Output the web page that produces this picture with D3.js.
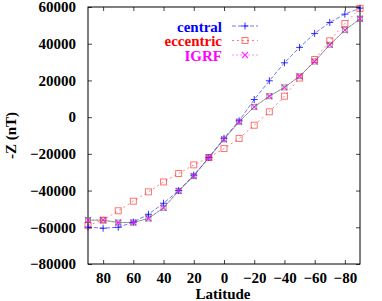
<!DOCTYPE html>
<html>
<head>
<meta charset="utf-8">
<script src="https://cdn.jsdelivr.net/npm/d3@7"></script>
<style>
body { margin: 0; background: #fff; }
</style>
</head>
<body>
<svg id="chart" width="382" height="301"></svg>
<script>
// latitudes of the samples, north to south
var latitudes = [90, 80, 70, 60, 50, 40, 30, 20, 10, 0, -10, -20, -30, -40, -50, -60, -70, -80, -90];

var central = [-59900, -60500, -60000, -57200, -52900, -46900, -40000, -31600, -22000, -11500,
	-2000, 9600, 19800, 29600, 38000, 45600, 51600, 56100, 59400];
var eccentric = [-59000, -56100, -51000, -45800, -40700, -35300, -30700, -26000, -22000, -17100,
	-11600, -4400, 2900, 11400, 21300, 31400, 41600, 51000, 59200];
var igrf = [-56100, -56100, -57400, -57400, -55200, -49400, -40200, -32100, -22000, -12100,
	-2500, 5600, 11400, 16200, 22300, 30300, 39400, 47400, 53600];

var xTicks = [80, 60, 40, 20, 0, -20, -40, -60, -80];
var yTicks = [-80000, -60000, -40000, -20000, 0, 20000, 40000, 60000];

var FONT = "Liberation Serif";
var FONT_SIZE = 15;
var PLOT_L = 88, PLOT_R = 360, PLOT_T = 7, PLOT_B = 264;
var TICK_LEN = 4;

var svg = d3.select("#chart");

var x = d3.scaleLinear().domain([90, -90]).range([PLOT_L, PLOT_R]);
var y = d3.scaleLinear().domain([-80000, 60000]).range([PLOT_B, PLOT_T]);

function styleAxis(g) {
	g.select(".domain").remove();
	g.selectAll("text")
		.attr("fill", "#000")
		.attr("font-family", FONT)
		.attr("font-weight", "bold")
		.attr("font-size", FONT_SIZE);
	g.selectAll("line").attr("stroke", "#444");
}

// axes: labels on left/bottom, mirrored ticks on top/right
svg.append("g")
	.attr("transform", "translate(0," + PLOT_B + ")")
	.call(d3.axisBottom(x).tickValues(xTicks).tickSizeInner(-TICK_LEN).tickSizeOuter(0).tickPadding(8).tickFormat(d3.format("d")))
	.call(styleAxis);

svg.append("g")
	.attr("transform", "translate(0," + PLOT_T + ")")
	.call(d3.axisTop(x).tickValues(xTicks).tickSizeInner(-TICK_LEN).tickSizeOuter(0).tickFormat(""))
	.call(styleAxis);

svg.append("g")
	.attr("transform", "translate(" + PLOT_L + ",0)")
	.call(d3.axisLeft(y).tickValues(yTicks).tickSizeInner(-TICK_LEN).tickSizeOuter(0).tickPadding(12).tickFormat(d3.format("d")))
	.call(styleAxis);

svg.append("g")
	.attr("transform", "translate(" + PLOT_R + ",0)")
	.call(d3.axisRight(y).tickValues(yTicks).tickSizeInner(-TICK_LEN).tickSizeOuter(0).tickFormat(""))
	.call(styleAxis);

// frame
svg.append("rect")
	.attr("x", PLOT_L).attr("y", PLOT_T)
	.attr("width", PLOT_R - PLOT_L).attr("height", PLOT_B - PLOT_T)
	.attr("fill", "none").attr("stroke", "#000").attr("stroke-width", 1);

// axis titles
svg.append("text")
	.attr("x", 223).attr("y", 298.5)
	.attr("text-anchor", "middle")
	.attr("font-family", FONT).attr("font-weight", "bold").attr("font-size", FONT_SIZE)
	.text("Latitude");

svg.append("text")
	.attr("transform", "translate(16," + ((PLOT_T + PLOT_B) / 2) + ") rotate(-90)")
	.attr("text-anchor", "middle")
	.attr("font-family", FONT).attr("font-weight", "bold").attr("font-size", FONT_SIZE)
	.text("-Z (nT)");

var line = d3.line()
	.x(function(d, i) { return x(latitudes[i]); })
	.y(function(d) { return y(d); });

// marker drawing helpers
function plus(g, cx, cy, col) {
	g.append("path").attr("d", "M" + (cx - 3.5) + "," + cy + "h7M" + cx + "," + (cy - 3.5) + "v7")
		.attr("stroke", col).attr("stroke-width", 1).attr("fill", "none");
}
function square(g, cx, cy, col, s) {
	g.append("rect").attr("x", cx - s / 2).attr("y", cy - s / 2).attr("width", s).attr("height", s)
		.attr("stroke", col).attr("stroke-width", 1).attr("fill", "none");
}
function cross(g, cx, cy, col) {
	g.append("path").attr("d", "M" + (cx - 3) + "," + (cy - 3) + "l6,6M" + (cx - 3) + "," + (cy + 3) + "l6,-6")
		.attr("stroke", col).attr("stroke-width", 1.2).attr("fill", "none");
}

var series = [
	{ name: "central", values: central, color: "#0000ff", lineColor: "rgba(0,0,255,0.55)", dash: "4,2", marker: "plus" },
	{ name: "eccentric", values: eccentric, color: "#ff0000", lineColor: "rgba(255,0,0,0.5)", dash: "2,3", marker: "square" },
	{ name: "IGRF", values: igrf, color: "#ff00ff", lineColor: "rgba(255,0,255,0.45)", dash: "2,2", marker: "cross" }
];

var plotG = svg.append("g");

// green reference line under the IGRF points
plotG.append("path")
	.datum(igrf)
	.attr("d", line)
	.attr("fill", "none")
	.attr("stroke", "rgba(0,128,0,0.5)")
	.attr("stroke-width", 1);
igrf.forEach(function(v, i) {
	square(plotG, x(latitudes[i]), y(v), "rgba(0,160,0,0.6)", 5);
});

series.forEach(function(s) {
	plotG.append("path")
		.datum(s.values)
		.attr("d", line)
		.attr("fill", "none")
		.attr("stroke", s.lineColor)
		.attr("stroke-width", 1)
		.attr("stroke-dasharray", s.dash);
	s.values.forEach(function(v, i) {
		var cx = x(latitudes[i]), cy = y(v);
		if (s.marker === "plus") plus(plotG, cx, cy, "rgba(0,0,255,0.8)");
		else if (s.marker === "square") square(plotG, cx, cy, "rgba(255,0,0,0.55)", 6);
		else cross(plotG, cx, cy, "rgba(255,0,255,0.8)");
	});
});

// legend
var legend = svg.append("g");
series.forEach(function(s, i) {
	var ly = 26 + i * 14.5;
	legend.append("text")
		.attr("x", 222).attr("y", ly + 5.5)
		.attr("text-anchor", "end")
		.attr("font-family", FONT).attr("font-weight", "bold").attr("font-size", FONT_SIZE)
		.attr("fill", s.color)
		.text(s.name);
	legend.append("line")
		.attr("x1", 232).attr("x2", 258).attr("y1", ly).attr("y2", ly)
		.attr("stroke", s.lineColor).attr("stroke-width", 1)
		.attr("stroke-dasharray", s.dash);
	if (s.marker === "plus") plus(legend, 245, ly, "rgba(0,0,255,0.8)");
	else if (s.marker === "square") square(legend, 245, ly, "rgba(255,0,0,0.55)", 6);
	else cross(legend, 245, ly, "rgba(255,0,255,0.8)");
});
</script>
</body>
</html>
